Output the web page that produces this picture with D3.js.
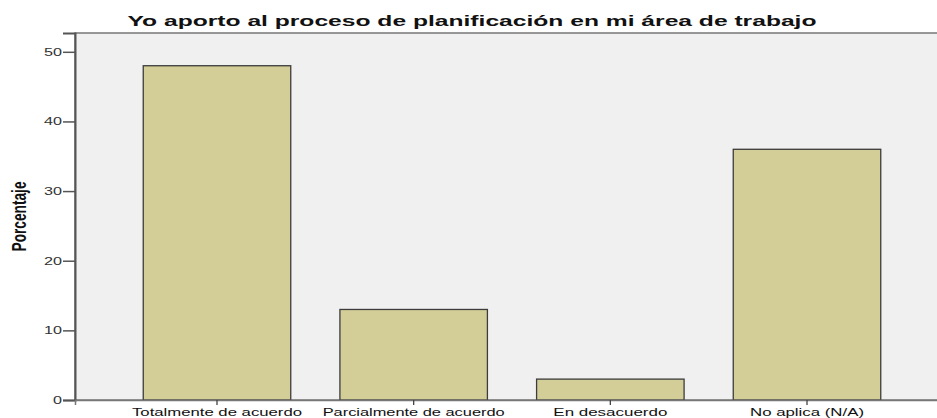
<!DOCTYPE html>
<html>
<head>
<meta charset="utf-8">
<script src="https://cdn.jsdelivr.net/npm/d3@7"></script>
<style>
  body { margin: 0; background: #fff; }
  svg { display: block; }
</style>
</head>
<body>
<svg width="937" height="418"></svg>
<script>
const categories = ['Totalmente de acuerdo', 'Parcialmente de acuerdo', 'En desacuerdo', 'No aplica (N/A)'];
const values = [48, 13, 3, 36];
const yTicks = [0, 10, 20, 30, 40, 50];

// rendered widths of the labels (the original font is stretched wide)
const catLabelWidths = [170, 182, 114, 114];

const svg = d3.select('svg');
const plotLeft = 75, plotRight = 949, plotTop = 33, plotBottom = 400;

// plot background
svg.append('rect')
    .attr('x', plotLeft)
    .attr('y', plotTop)
    .attr('width', plotRight - plotLeft)
    .attr('height', plotBottom - plotTop)
    .attr('fill', '#f0f0f0')
    .attr('stroke', '#777')
    .attr('stroke-width', 1.5);

const x = d3.scaleBand()
  .domain(categories)
  .range([plotLeft, plotRight])
  .paddingInner(0.25)
  .paddingOuter(0.347);

const y = d3.scaleLinear()
  .domain([0, 52.7])
  .range([plotBottom, plotTop]);

// bars
svg.append('g')
  .selectAll('rect')
  .data(values)
  .join('rect')
    .attr('x', (d, i) => x(categories[i]))
    .attr('y', d => y(d))
    .attr('width', x.bandwidth())
    .attr('height', d => y(0) - y(d))
    .attr('fill', '#d3ce97')
    .attr('stroke', '#3c3c3c')
    .attr('stroke-width', 1.3);

// y axis
const yAxis = svg.append('g')
    .attr('transform', `translate(${plotLeft},0)`)
    .call(d3.axisLeft(y).tickValues(yTicks).tickSize(12).tickPadding(1).tickFormat(d3.format('d')));
yAxis.select('.domain').attr('stroke', '#555').attr('stroke-width', 2);
yAxis.selectAll('.tick line').attr('stroke', '#555').attr('stroke-width', 1.5);
yAxis.selectAll('text')
    .attr('font-family', 'Liberation Sans, Arial, sans-serif')
    .attr('font-size', 10.5)
    .attr('fill', '#333')
    .attr('textLength', d => String(d).length * 9)
    .attr('lengthAdjust', 'spacingAndGlyphs');

// x axis
const xAxis = svg.append('g')
    .attr('transform', `translate(0,${plotBottom})`)
    .call(d3.axisBottom(x).tickSize(5).tickPadding(3));
xAxis.select('.domain').attr('stroke', '#777').attr('stroke-width', 1.5);
xAxis.selectAll('.tick line').attr('stroke', '#444').attr('stroke-width', 1.3);
xAxis.selectAll('text')
    .attr('font-family', 'Liberation Sans, Arial, sans-serif')
    .attr('font-size', 11.5)
    .attr('fill', '#111')
    .attr('textLength', (d, i) => catLabelWidths[i])
    .attr('lengthAdjust', 'spacingAndGlyphs');

// title
svg.append('text')
    .attr('x', 472)
    .attr('y', 26)
    .attr('text-anchor', 'middle')
    .attr('font-family', 'Liberation Sans, Arial, sans-serif')
    .attr('font-weight', 'bold')
    .attr('font-size', 15.5)
    .attr('fill', '#111')
    .attr('textLength', 689)
    .attr('lengthAdjust', 'spacingAndGlyphs')
    .text('Yo aporto al proceso de planificación en mi área de trabajo');

// y label
svg.append('text')
    .attr('transform', `translate(26,${(plotTop + plotBottom) / 2}) rotate(-90)`)
    .attr('text-anchor', 'middle')
    .attr('font-family', 'Liberation Sans Narrow, Arial Narrow, Liberation Sans, sans-serif')
    .attr('font-weight', 'bold')
    .attr('font-size', 20)
    .attr('fill', '#111')
    .attr('textLength', 70)
    .attr('lengthAdjust', 'spacingAndGlyphs')
    .text('Porcentaje');
</script>
</body>
</html>
